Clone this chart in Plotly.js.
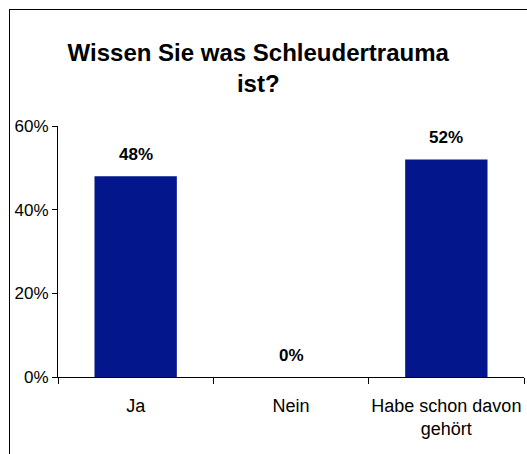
<!DOCTYPE html>
<html>
<head>
<meta charset="utf-8">
<script src="https://cdn.plot.ly/plotly-3.0.1.min.js"></script>
<style>
    html, body { margin: 0; padding: 0; background: #fff; overflow: hidden; }
    #frame { position: absolute; left: 9px; top: 9px; width: 600px; height: 600px; border: 1px solid #000; }
    #chart { position: absolute; left: 0; top: 0; width: 527px; height: 454px; }
</style>
</head>
<body>
<div id="frame"></div>
<div id="chart"></div>
<script>
// Chart data
const categories = ['Ja', 'Nein', 'Habe schon davon<br>gehört'];
const shares = [0.48, 0.00, 0.52];
const shareLabels = ['48%', '0%', '52%'];
const yTickValues = [0, 0.2, 0.4, 0.6];
const yTickLabels = ['0%', '20%', '40%', '60%'];

const fontFamily = '"Liberation Sans", Arial, sans-serif';

// Bar trace
const trace = {
    x: categories,
    y: shares,
    type: 'bar',
    marker: { color: '#04168c' },
    hoverinfo: 'none'
};

// Value labels above the bars
const labels = categories.map((cat, i) => ({
    x: cat,
    y: shares[i],
    text: shareLabels[i],
    showarrow: false,
    yanchor: 'bottom',
    yshift: 10,
    font: { family: fontFamily, size: 17, color: '#000', weight: 'bold' }
}));

const layout = {
    width: 527,
    height: 454,
    title: {
        text: 'Wissen Sie was Schleudertrauma<br>ist?',
        font: { family: fontFamily, size: 24, color: '#000', weight: 'bold' },
        x: 0.49,
        xref: 'container',
        y: 1 - 61 / 454,
        yref: 'container',
        yanchor: 'top'
    },
    xaxis: {
        type: 'category',
        showline: true,
        linecolor: '#000',
        linewidth: 1,
        ticks: 'outside',
        tickson: 'boundaries',
        ticklen: 6,
        tickcolor: '#000',
        tickangle: 0,
        ticklabelstandoff: 12,
        tickfont: { family: fontFamily, size: 18, color: '#000' },
        showgrid: false
    },
    yaxis: {
        range: [0, 0.6],
        tickvals: yTickValues,
        ticktext: yTickLabels,
        showline: true,
        linecolor: '#000',
        linewidth: 1,
        ticks: 'outside',
        ticklen: 5,
        tickcolor: '#000',
        tickfont: { family: fontFamily, size: 17, color: '#000' },
        showgrid: false,
        zeroline: false
    },
    bargap: 0.47,
    annotations: labels,
    paper_bgcolor: 'rgba(0,0,0,0)',
    plot_bgcolor: 'rgba(0,0,0,0)',
    margin: { t: 126, r: 3, b: 77, l: 58 },
    showlegend: false
};

Plotly.newPlot('chart', [trace], layout, { displayModeBar: false, staticPlot: true });
</script>
</body>
</html>
